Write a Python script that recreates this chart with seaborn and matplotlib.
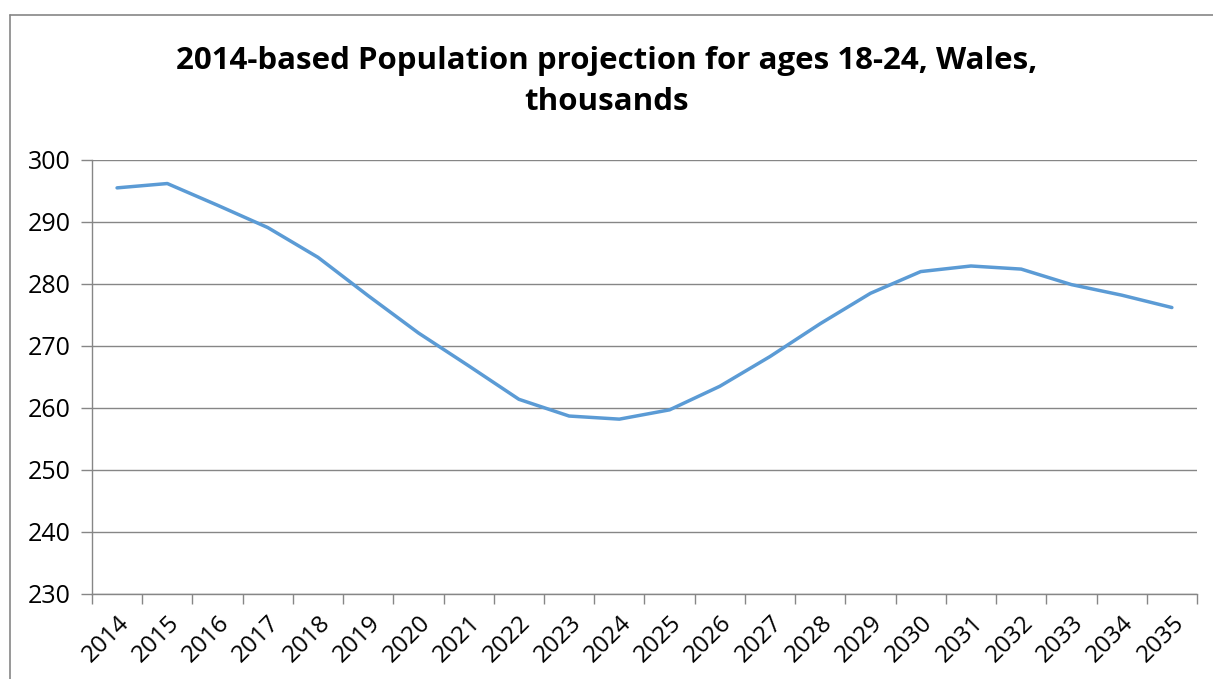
import pandas as pd
import seaborn as sns
from matplotlib import pyplot as plt
from matplotlib.lines import Line2D

years = ['2014', '2015', '2016', '2017', '2018', '2019', '2020', '2021', '2022', '2023', '2024',
         '2025', '2026', '2027', '2028', '2029', '2030', '2031', '2032', '2033', '2034', '2035']
population = [295.5, 296.2, 292.7, 289.1, 284.3, 278.1, 272.1, 266.8, 261.4, 258.7, 258.2,
              259.7, 263.5, 268.3, 273.6, 278.5, 282.0, 282.9, 282.4, 279.9, 278.2, 276.2]
y_ticks = [230, 240, 250, 260, 270, 280, 290, 300]
title = '2014-based Population projection for ages 18-24, Wales,\nthousands'

GRID = '#868686'
LINE = '#5B9BD5'

sns.set_style('white')
plt.rcParams['font.family'] = ['Open Sans', 'DejaVu Sans']
plt.rcParams['text.color'] = 'black'
plt.rcParams['xtick.labelcolor'] = 'black'
plt.rcParams['ytick.labelcolor'] = 'black'

df = pd.DataFrame({'pos': range(len(years)), 'year': years, 'value': population})

fig = plt.figure(figsize=(12.13, 6.79), dpi=100)
ax = fig.add_axes([0.0758, 0.1252, 0.9110, 0.6392])

sns.lineplot(data=df, x='pos', y='value', color=LINE, linewidth=2.5, ax=ax)

ax.set_xlim(-0.5, len(years) - 0.5)
ax.set_ylim(230, 300)
ax.set_yticks(y_ticks)
ax.set_yticklabels([str(t) for t in y_ticks], fontsize=18)
ax.yaxis.grid(True, color=GRID, linewidth=1)
ax.set_axisbelow(True)

# category labels at centres, tick marks at the boundaries (Excel style)
ax.set_xticks(df['pos'])
ax.set_xticklabels(years, rotation=45, ha='right', rotation_mode='anchor', fontsize=17.5)
ax.set_xticks([i - 0.5 for i in range(len(years) + 1)], minor=True)
ax.tick_params(axis='x', which='major', length=0, pad=12)
ax.tick_params(axis='x', which='minor', length=7, color=GRID, width=1, direction='out')
ax.tick_params(axis='y', length=8, color=GRID, width=1, direction='out', pad=7)
ax.xaxis.set_ticks_position('bottom')
ax.yaxis.set_ticks_position('left')

for side in ['top', 'right']:
    ax.spines[side].set_visible(False)
for side in ['left', 'bottom']:
    ax.spines[side].set_color(GRID)
    ax.spines[side].set_linewidth(1)

ax.set_xlabel('')
ax.set_ylabel('')

fig.suptitle(title, x=0.5, y=0.932, fontsize=22.5, fontweight='bold', linespacing=1.45, color='black')

# chart area frame (top and left edges)
fig.add_artist(Line2D([10 / 1213, 1], [1 - 15 / 679, 1 - 15 / 679], transform=fig.transFigure, color=GRID, linewidth=1.2))
fig.add_artist(Line2D([10 / 1213, 10 / 1213], [0, 1 - 15 / 679], transform=fig.transFigure, color=GRID, linewidth=1.2))

fig.savefig('out.png', dpi=100)
